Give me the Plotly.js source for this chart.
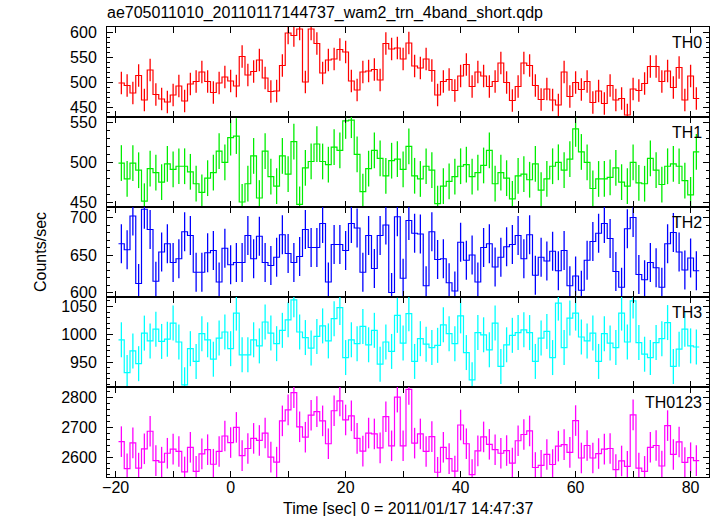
<!DOCTYPE html>
<html>
<head>
<meta charset="utf-8">
<script src="https://cdn.plot.ly/plotly-3.0.1.min.js"></script>
<style>html,body{margin:0;padding:0;background:#fff;}#chart{width:717px;height:516px;}</style>
</head>
<body>
<div id="chart"></div>
<script>
// Bin centres (seconds since 2011/01/17 14:47:37), 1-s bins
const timeSec = [-19,-18,-17,-16,-15,-14,-13,-12,-11,-10,-9,-8,-7,-6,-5,-4,-3,-2,-1,0,
  1,2,3,4,5,6,7,8,9,10,11,12,13,14,15,16,17,18,19,20,
  21,22,23,24,25,26,27,28,29,30,31,32,33,34,35,36,37,38,39,40,
  41,42,43,44,45,46,47,48,49,50,51,52,53,54,55,56,57,58,59,60,
  61,62,63,64,65,66,67,68,69,70,71,72,73,74,75,76,77,78,79,80,81];

const th0 = [498,493,478,513,464,524,475,466,460,474,
  492,462,496,501,520,501,479,498,510,502,
  492,551,514,521,544,508,481,482,533,598,
  593,606,500,606,577,518,544,546,565,560,
  502,484,520,522,525,504,577,566,568,546,
  578,532,528,546,523,474,501,505,483,512,
  535,491,520,512,491,501,538,499,463,491,
  538,533,493,465,486,464,454,520,471,499,
  485,501,459,482,457,493,464,467,434,486,
  483,497,531,531,501,522,489,529,464,512,467];

const th1 = [499,479,499,490,451,492,487,475,498,491,
  495,495,488,473,462,480,487,514,500,531,
  533,450,473,508,455,514,482,470,508,485,
  526,447,493,501,523,501,497,519,515,552,
  553,510,463,492,515,505,483,502,504,491,
  520,483,479,495,490,448,470,476,482,495,
  497,482,487,496,515,473,487,480,454,483,
  485,478,498,465,479,495,500,490,504,542,
  513,500,467,479,479,481,493,475,470,500,
  474,473,505,490,472,495,498,495,477,459,513];

const th2 = [665,657,702,612,711,684,615,654,665,640,
  645,681,676,627,627,653,656,614,659,637,
  640,640,676,645,675,640,636,647,677,652,
  640,648,684,660,660,692,614,664,664,656,
  692,686,627,676,632,676,690,600,701,619,
  696,679,678,609,681,644,645,613,602,667,
  643,650,614,660,665,634,647,661,664,676,
  645,677,623,647,642,655,629,656,609,622,
  603,643,668,679,692,672,628,607,685,700,
  624,617,640,633,607,665,680,654,630,646,629];

const th3 = [990,931,970,947,1002,988,1009,987,991,1020,
  986,909,974,951,1001,990,955,993,1004,974,
  1038,963,963,990,979,1022,1002,983,1007,1026,
  1062,1004,994,975,996,1015,988,1028,1048,958,
  990,983,1014,981,1007,946,986,969,1034,984,
  1037,951,992,982,976,980,1017,1001,983,1033,
  967,918,1003,999,972,1020,942,981,998,1003,
  1008,1003,951,993,1005,958,1056,976,1029,1038,
  995,988,1002,951,1001,984,976,1038,986,1060,
  985,964,958,985,992,1021,942,973,1009,979,977];

const th0123 = [2652,2561,2648,2563,2628,2687,2588,2583,2613,2627,
  2619,2550,2633,2552,2611,2625,2576,2619,2671,2649,
  2700,2605,2629,2663,2656,2681,2600,2583,2722,2759,
  2817,2702,2667,2741,2753,2722,2645,2756,2789,2725,
  2739,2663,2620,2681,2678,2631,2736,2638,2802,2638,
  2828,2647,2678,2619,2669,2549,2633,2595,2553,2708,
  2645,2541,2621,2668,2643,2625,2613,2622,2580,2655,
  2676,2688,2565,2572,2609,2575,2637,2642,2616,2723,
  2597,2639,2597,2612,2627,2629,2558,2587,2569,2742,
  2563,2552,2633,2639,2570,2706,2609,2651,2582,2598,2588];

// 1-sigma errors (counts/sec), roughly constant per band
const errTH0 = 22.5, errTH1 = 22.5, errTH2 = 26, errTH3 = 31.5, errTH0123 = 51.5;

const bandNames = ['TH0','TH1','TH2','TH3','TH0123'];
const bandValues = [th0, th1, th2, th3, th0123];
const bandErrors = [errTH0, errTH1, errTH2, errTH3, errTH0123];

const colors = ['#ff0000','#00ee00','#0000ff','#00ffff','#ff00ff'];
const yRanges = [[430,610],[443.7,557],[594,714],[905,1067],[2533,2836]];
const yMajor = [50,50,50,50,100];
const yMinor = [10,10,10,10,20];
const binWidth = 1;
const xRange = [-21.5, 83.2];

const traces = [];
const layout = {
  width: 717, height: 516,
  margin: {l:107, r:8, t:27, b:39},
  paper_bgcolor: '#fff', plot_bgcolor: '#fff',
  showlegend: false,
  font: {family: 'Liberation Sans, Arial, sans-serif', size: 16, color: '#000'},
  title: {text: 'ae705011010_20110117144737_wam2_trn_4band_short.qdp',
          xref: 'paper', x: 0, xanchor: 'left', yref: 'container', y: 1 - 12/516, yanchor: 'middle',
          font: {size: 16, color: '#000'}},
  annotations: []
};

const n = bandNames.length;
for (let i = 0; i < n; i++) {
  const vals = bandValues[i];
  const ax = i === 0 ? '' : String(i + 1);
  // step (histogram) line: left edges + final right edge
  const xs = timeSec.map(t => t - binWidth/2);
  xs.push(timeSec[timeSec.length-1] + binWidth/2);
  const ys = vals.slice();
  ys.push(vals[vals.length-1]);
  traces.push({
    type: 'scatter', mode: 'lines', x: xs, y: ys,
    xaxis: 'x' + ax, yaxis: 'y' + ax,
    line: {shape: 'hv', color: colors[i], width: 1.2},
    hoverinfo: 'skip'
  });
  traces.push({
    type: 'scatter', mode: 'markers', x: timeSec, y: vals,
    xaxis: 'x' + ax, yaxis: 'y' + ax,
    marker: {size: 1, color: 'rgba(0,0,0,0)'},
    error_y: {type: 'constant', value: bandErrors[i], visible: true, width: 0, thickness: 1.3, color: colors[i]},
    hoverinfo: 'skip'
  });
  const top = 1 - i/n, bot = 1 - (i+1)/n;
  layout['xaxis' + ax] = {
    domain: [0, 1], anchor: 'y' + ax, range: xRange,
    matches: i === 0 ? undefined : 'x',
    showticklabels: i === n-1,
    ticks: 'inside', ticklen: 6, tickwidth: 1, tickcolor: '#000',
    dtick: 20, tick0: 0,
    minor: {dtick: 10, ticks: 'inside', ticklen: 6, tickcolor: '#000', showgrid: false},
    mirror: 'allticks', showline: true, linecolor: '#000', linewidth: 1,
    showgrid: false, zeroline: false,
    ticklabelstandoff: -4,
    tickfont: {size: 16, color: '#000'}
  };
  layout['yaxis' + ax] = {
    domain: [bot, top], anchor: 'x' + ax, range: yRanges[i],
    ticks: 'inside', ticklen: 6, tickwidth: 1, tickcolor: '#000',
    dtick: yMajor[i], tick0: 0,
    minor: {dtick: yMinor[i], ticks: 'inside', ticklen: 3, tickcolor: '#000', showgrid: false},
    mirror: 'allticks', showline: true, linecolor: '#000', linewidth: 1,
    showgrid: false, zeroline: false,
    ticklabelstandoff: 6,
    tickfont: {size: 16, color: '#000'}
  };
  layout.annotations.push({
    text: bandNames[i], xref: 'paper', yref: 'paper', x: 0.992, y: top - 0.012,
    xanchor: 'right', yanchor: 'top', showarrow: false,
    font: {size: 16, color: '#000'}
  });
}
layout.annotations.push({
  text: 'Counts/sec', xref: 'paper', yref: 'paper', x: (40-107)/602, y: 0.5,
  xanchor: 'center', yanchor: 'middle', textangle: -90, showarrow: false,
  font: {size: 16, color: '#000'}
});
layout.annotations.push({
  text: 'Time [sec] 0 = 2011/01/17 14:47:37', xref: 'paper', yref: 'paper', x: (408-107)/602, y: (477-508)/450,
  xanchor: 'center', yanchor: 'middle', showarrow: false,
  font: {size: 16, color: '#000'}
});

Plotly.newPlot('chart', traces, layout, {staticPlot: true, displayModeBar: false});
</script>
</body>
</html>
